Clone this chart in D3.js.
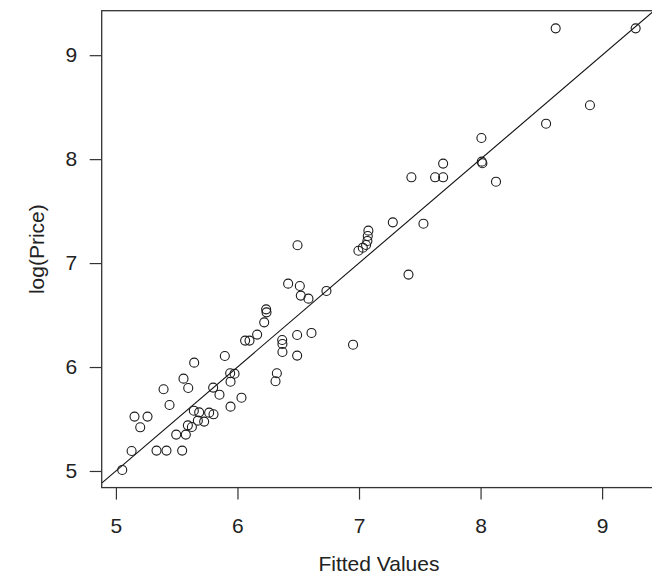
<!DOCTYPE html>
<html>
<head>
<meta charset="utf-8">
<script src="https://cdn.jsdelivr.net/npm/d3@7"></script>
<style>
  html, body { margin: 0; padding: 0; background: #fff; }
  svg { display: block; }
  text { font-family: "Liberation Sans", Arial, Helvetica, sans-serif; fill: #222; }
</style>
</head>
<body>
<svg id="chart" width="652" height="574"></svg>
<script>
// Fitted values (x) and observed log(Price) (y)
const fitted = [
  5.052, 5.129, 5.153, 5.200, 5.260, 5.334, 5.416, 5.392, 5.441, 5.496,
  5.545, 5.556, 5.575, 5.595, 5.592, 5.625, 5.641, 5.644, 5.674, 5.685,
  5.726, 5.767, 5.803, 5.800, 5.852, 5.896, 5.940, 5.943, 5.943, 5.976,
  6.033, 6.063, 6.099, 6.162, 6.220, 6.236, 6.239, 6.313, 6.324, 6.368,
  6.370, 6.370, 6.417, 6.491, 6.491, 6.513, 6.521, 6.584, 6.609, 6.732,
  6.951, 6.494, 6.995, 7.031, 7.058, 7.069, 7.072, 7.077, 7.278, 7.407,
  7.431, 7.530, 7.626, 7.692, 7.692, 8.007, 8.010, 8.015, 8.127, 8.539,
  8.618, 8.900, 9.276
];
const logPrice = [
  5.010, 5.192, 5.523, 5.420, 5.523, 5.196, 5.196, 5.786, 5.635, 5.350,
  5.196, 5.888, 5.350, 5.798, 5.439, 5.423, 5.580, 6.042, 5.484, 5.564,
  5.475, 5.561, 5.545, 5.802, 5.734, 6.106, 5.940, 5.859, 5.619, 5.936,
  5.705, 6.254, 6.254, 6.312, 6.430, 6.555, 6.526, 5.863, 5.940, 6.260,
  6.222, 6.145, 6.802, 6.308, 6.110, 6.780, 6.687, 6.658, 6.328, 6.732,
  6.215, 7.171, 7.119, 7.148, 7.174, 7.213, 7.261, 7.312, 7.392, 6.889,
  7.825, 7.379, 7.825, 7.825, 7.957, 8.203, 7.976, 7.960, 7.783, 8.341,
  9.258, 8.518, 9.258
];
const xTicks = [5, 6, 7, 8, 9];
const yTicks = [5, 6, 7, 8, 9];
const refLine = { intercept: 0, slope: 1 };
const xLabel = "Fitted Values";
const yLabel = "log(Price)";

const svg = d3.select("#chart");
const pLeft = 101.7, pRight = 656.2, pTop = 10.7, pBottom = 487.6;
const fs = 21;

function padded(arr) {
  const [lo, hi] = d3.extent(arr);
  const p = (hi - lo) * 0.04;
  return [lo - p, hi + p];
}

const x = d3.scaleLinear().domain(padded(fitted)).range([pLeft, pRight]);
const y = d3.scaleLinear().domain(padded(logPrice)).range([pBottom, pTop]);

svg.append("clipPath").attr("id", "plotclip")
  .append("rect")
  .attr("x", pLeft).attr("y", pTop)
  .attr("width", pRight - pLeft).attr("height", pBottom - pTop);

// reference line y = a + b x
const xd = x.domain();
svg.append("line")
  .attr("clip-path", "url(#plotclip)")
  .attr("x1", x(xd[0])).attr("y1", y(refLine.intercept + refLine.slope * xd[0]))
  .attr("x2", x(xd[1])).attr("y2", y(refLine.intercept + refLine.slope * xd[1]))
  .attr("stroke", "#111").attr("stroke-width", 1.1);

// points
svg.append("g").selectAll("circle")
  .data(fitted.map((v, i) => [v, logPrice[i]]))
  .join("circle")
  .attr("cx", d => x(d[0]))
  .attr("cy", d => y(d[1]))
  .attr("r", 4.5)
  .attr("fill", "none")
  .attr("stroke", "#1a1a1a")
  .attr("stroke-width", 1.1);

// box
svg.append("rect")
  .attr("x", pLeft).attr("y", pTop)
  .attr("width", pRight - pLeft).attr("height", pBottom - pTop)
  .attr("fill", "none").attr("stroke", "#333").attr("stroke-width", 1.3);

// axes
const xAxis = svg.append("g")
  .attr("transform", `translate(0,${pBottom})`)
  .call(d3.axisBottom(x).tickValues(xTicks).tickSize(12).tickPadding(18).tickFormat(d3.format("d")));
xAxis.select(".domain").remove();
xAxis.selectAll(".tick line").attr("stroke", "#333").attr("stroke-width", 1.2);
xAxis.selectAll("text").attr("font-size", fs).style("fill", "#222")
  .attr("font-family", "Liberation Sans, Arial, sans-serif");

const yAxis = svg.append("g")
  .attr("transform", `translate(${pLeft},0)`)
  .call(d3.axisLeft(y).tickValues(yTicks).tickSize(12).tickPadding(12.5).tickFormat(d3.format("d")));
yAxis.select(".domain").remove();
yAxis.selectAll(".tick line").attr("stroke", "#333").attr("stroke-width", 1.2);
yAxis.selectAll("text").attr("font-size", fs).style("fill", "#222")
  .attr("font-family", "Liberation Sans, Arial, sans-serif");

// axis titles
svg.append("text")
  .attr("x", (pLeft + pRight) / 2).attr("y", 571)
  .attr("text-anchor", "middle").attr("font-size", fs)
  .text(xLabel);

svg.append("text")
  .attr("transform", `translate(44,${(pTop + pBottom) / 2}) rotate(-90)`)
  .attr("text-anchor", "middle").attr("font-size", fs)
  .text(yLabel);
</script>
</body>
</html>
